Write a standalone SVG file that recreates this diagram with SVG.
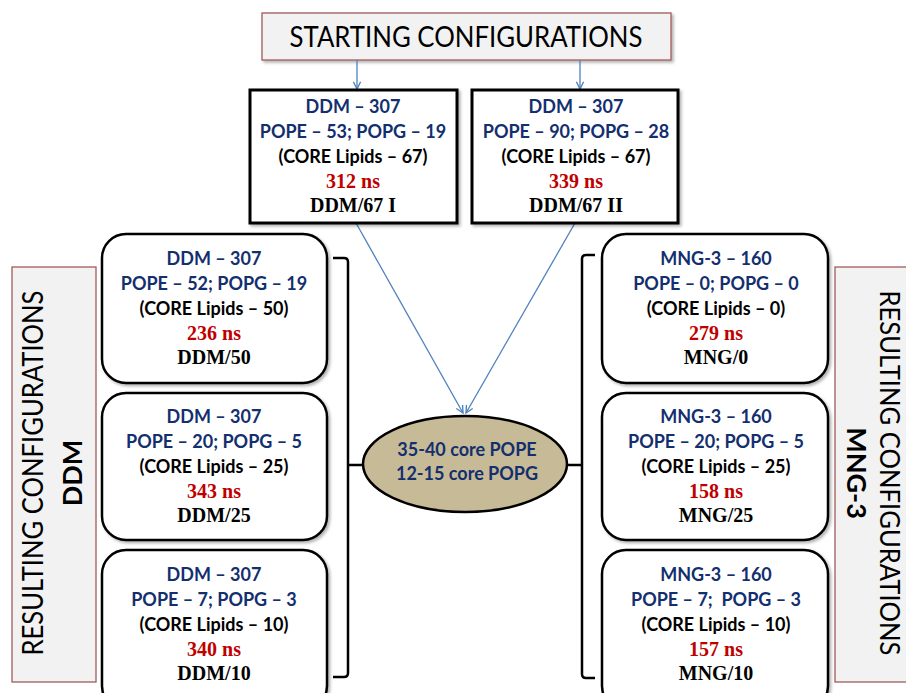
<svg xmlns="http://www.w3.org/2000/svg" width="906" height="693" viewBox="0 0 906 693">
<defs>
<filter id="sh" x="-10%" y="-10%" width="130%" height="130%">
<feDropShadow dx="2" dy="2" stdDeviation="1.5" flood-color="#000" flood-opacity="0.3"/>
</filter>
<marker id="ah" viewBox="0 0 10 10" refX="9" refY="5" markerWidth="9" markerHeight="9" markerUnits="userSpaceOnUse" orient="auto">
<path d="M1,1 L9,5 L1,9" fill="none" stroke="#4f81bd" stroke-width="1.5"/>
</marker>
<style>
.lbl{fill:#f2f2f2;stroke:#a05a5a;stroke-width:1.3}
.sq{fill:#fff;stroke:#000;stroke-width:3;filter:url(#sh)}
.rd{fill:#fff;stroke:#000;stroke-width:2.5;filter:url(#sh)}
.b{font-family:Lato,"Open Sans","Liberation Sans",sans-serif;font-weight:bold;font-size:18px;text-anchor:middle;fill:#132f6e}
.k{font-family:Lato,"Open Sans","Liberation Sans",sans-serif;font-weight:bold;font-size:18px;text-anchor:middle;fill:#000}
.r{font-family:"Liberation Serif","Times New Roman",serif;font-weight:bold;font-size:20px;text-anchor:middle;fill:#c00000}
.n{font-family:"Liberation Serif","Times New Roman",serif;font-weight:bold;font-size:20px;text-anchor:middle;fill:#000}
.big{font-family:Lato,"Open Sans","Liberation Sans",sans-serif;font-size:28px;text-anchor:middle;fill:#000}
.bigb{font-family:Lato,"Open Sans","Liberation Sans",sans-serif;font-size:27px;font-weight:bold;text-anchor:middle;fill:#000}
.blue{fill:none;stroke:#4f81bd;stroke-width:1.3}
.br{fill:none;stroke:#000;stroke-width:2.5}
</style>
</defs>

<g id="start">
<rect class="lbl" x="262" y="13" width="409" height="47" filter="url(#sh)"/>
<text class="big" x="466" y="47" textLength="353" lengthAdjust="spacingAndGlyphs">STARTING CONFIGURATIONS</text>
</g>

<g id="connectors">
<line class="blue" x1="357" y1="60" x2="357" y2="89" marker-end="url(#ah)"/>
<line class="blue" x1="580" y1="60" x2="580" y2="89" marker-end="url(#ah)"/>
<line class="blue" x1="356" y1="223" x2="463" y2="413" marker-end="url(#ah)"/>
<line class="blue" x1="575" y1="223" x2="466" y2="413" marker-end="url(#ah)"/>
<path class="br" d="M333,258 L344,258 Q348,258 348,262 L348,673 Q348,677 344,677 L333,677 M348,465 L363,465"/>
<path class="br" d="M595,255 L586,255 Q582,255 582,259 L582,674 Q582,678 586,678 L595,678 M582,465 L567,465"/>
</g>

<g id="ddm67I">
<rect class="sq" x="250" y="90" width="207" height="133"/>
<text class="b" x="353" y="113">DDM – 307</text>
<text class="b" x="353" y="138">POPE – 53; POPG – 19</text>
<text class="k" x="353" y="163">(CORE Lipids – 67)</text>
<text class="r" x="353" y="188">312 ns</text>
<text class="n" x="353" y="212">DDM/67 I</text>
</g>

<g id="ddm67II">
<rect class="sq" x="472" y="90" width="206" height="133"/>
<text class="b" x="576" y="113">DDM – 307</text>
<text class="b" x="576" y="138">POPE – 90; POPG – 28</text>
<text class="k" x="576" y="163">(CORE Lipids – 67)</text>
<text class="r" x="576" y="188">339 ns</text>
<text class="n" x="576" y="212">DDM/67 II</text>
</g>

<g id="ddmLabel">
<rect class="lbl" x="12" y="267" width="84" height="415"/>
<text class="big" transform="translate(43,473) rotate(-90)" textLength="365" lengthAdjust="spacingAndGlyphs">RESULTING CONFIGURATIONS</text>
<text class="bigb" transform="translate(82,473) rotate(-90)">DDM</text>
</g>

<g id="mngLabel">
<rect class="lbl" x="835" y="267" width="80" height="415"/>
<text class="big" style="font-size:27px" transform="translate(880,473) rotate(90)" textLength="365" lengthAdjust="spacingAndGlyphs">RESULTING CONFIGURATIONS</text>
<text class="bigb" transform="translate(847,473) rotate(90)">MNG-3</text>
</g>

<g id="ddm50">
<rect class="rd" x="102" y="234" width="225" height="149" rx="24"/>
<text class="b" x="214" y="265">DDM – 307</text>
<text class="b" x="214" y="290">POPE – 52; POPG – 19</text>
<text class="k" x="214" y="315">(CORE Lipids – 50)</text>
<text class="r" x="214" y="340">236 ns</text>
<text class="n" x="214" y="364">DDM/50</text>
</g>

<g id="ddm25">
<rect class="rd" x="102" y="393" width="225" height="147" rx="24"/>
<text class="b" x="214" y="423">DDM – 307</text>
<text class="b" x="214" y="448">POPE – 20; POPG – 5</text>
<text class="k" x="214" y="473">(CORE Lipids – 25)</text>
<text class="r" x="214" y="498">343 ns</text>
<text class="n" x="214" y="522">DDM/25</text>
</g>

<g id="ddm10">
<rect class="rd" x="102" y="550" width="225" height="160" rx="24"/>
<text class="b" x="214" y="581">DDM – 307</text>
<text class="b" x="214" y="606">POPE – 7; POPG – 3</text>
<text class="k" x="214" y="631">(CORE Lipids – 10)</text>
<text class="r" x="214" y="656">340 ns</text>
<text class="n" x="214" y="680">DDM/10</text>
</g>

<g id="mng0">
<rect class="rd" x="602" y="234" width="226" height="149" rx="24"/>
<text class="b" x="716" y="265">MNG-3 – 160</text>
<text class="b" x="716" y="290">POPE – 0; POPG – 0</text>
<text class="k" x="716" y="315">(CORE Lipids – 0)</text>
<text class="r" x="716" y="340">279 ns</text>
<text class="n" x="716" y="364">MNG/0</text>
</g>

<g id="mng25">
<rect class="rd" x="602" y="393" width="226" height="147" rx="24"/>
<text class="b" x="716" y="423">MNG-3 – 160</text>
<text class="b" x="716" y="448">POPE – 20; POPG – 5</text>
<text class="k" x="716" y="473">(CORE Lipids – 25)</text>
<text class="r" x="716" y="498">158 ns</text>
<text class="n" x="716" y="522">MNG/25</text>
</g>

<g id="mng10">
<rect class="rd" x="602" y="550" width="226" height="160" rx="24"/>
<text class="b" x="716" y="581">MNG-3 – 160</text>
<text class="b" x="716" y="606" xml:space="preserve">POPE – 7;  POPG – 3</text>
<text class="k" x="716" y="631">(CORE Lipids – 10)</text>
<text class="r" x="716" y="656">157 ns</text>
<text class="n" x="716" y="680">MNG/10</text>
</g>

<g id="core">
<ellipse cx="465" cy="464" rx="102" ry="48" fill="#c6bb96" stroke="#000" stroke-width="2.5"/>
<text class="b" x="467" y="456">35-40 core POPE</text>
<text class="b" x="467" y="480">12-15 core POPG</text>
</g>
</svg>
